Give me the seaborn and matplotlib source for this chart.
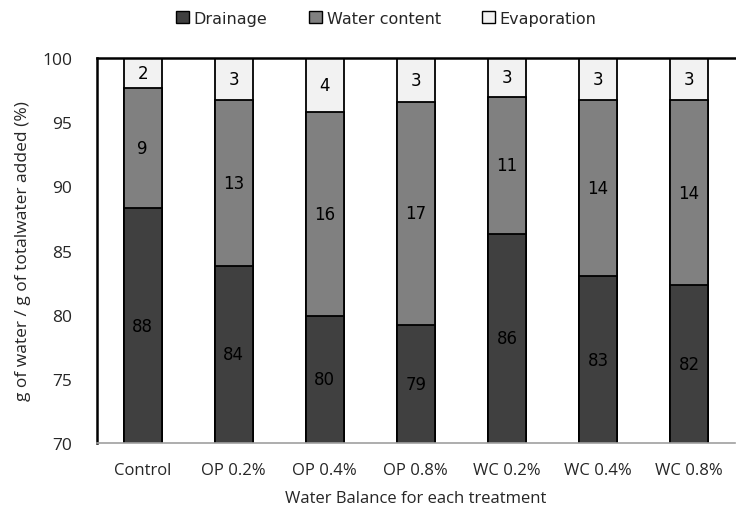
import numpy as np
import pandas as pd
import matplotlib
matplotlib.use("Agg")
import matplotlib.pyplot as plt
from matplotlib.patches import Patch
import seaborn as sns

# Water balance per treatment (% of total water added)
treatments = ["Control", "OP 0.2%", "OP 0.4%", "OP 0.8%", "WC 0.2%", "WC 0.4%", "WC 0.8%"]
drainage = [88.3, 83.8, 79.9, 79.2, 86.3, 83.0, 82.3]
water_content = [9.4, 12.9, 15.9, 17.4, 10.7, 13.7, 14.4]
evaporation = [2.3, 3.3, 4.2, 3.4, 3.0, 3.3, 3.3]
y_ticks = [70, 75, 80, 85, 90, 95, 100]

series_names = ["Drainage", "Water content", "Evaporation"]
series_colors = ["#404040", "#808080", "#f2f2f2"]

sns.set_theme(style="white")
plt.rcParams["font.family"] = ["DejaVu Sans"]

df = pd.DataFrame({
    "treatment": treatments,
    "Drainage": drainage,
    "Water content": water_content,
    "Evaporation": evaporation,
})
cum = df[series_names].cumsum(axis=1)
bottoms = cum.shift(1, axis=1).fillna(0)

fig = plt.figure(figsize=(7.36, 5.10), dpi=100)
ax = fig.add_axes([0.132, 0.1294, 0.866, 0.7549])

# stacked bars: draw cumulative totals from the top layer downwards
for name, color in reversed(list(zip(series_names, series_colors))):
    sns.barplot(x=df["treatment"], y=cum[name], color=color, saturation=1,
                edgecolor="black", linewidth=1.3, width=0.42, ax=ax, zorder=2)

ymin, ymax = 70, 100
ax.set_ylim(ymin, ymax)
ax.set_yticks(y_ticks)
ax.set_xlim(-0.5, len(treatments) - 0.5)

# segment value labels centred in the visible part of each segment
for name in series_names:
    for i in range(len(treatments)):
        lo = max(bottoms.loc[i, name], ymin)
        hi = cum.loc[i, name]
        ax.text(i, (lo + hi) / 2, f"{df.loc[i, name]:.0f}", ha="center", va="center",
                fontsize=12, color="black", zorder=3)

tick_font = "Open Sans"
for lab in ax.get_yticklabels():
    lab.set_fontfamily(tick_font)
    lab.set_fontsize(12.5)
for lab in ax.get_xticklabels():
    lab.set_fontfamily(tick_font)
    lab.set_fontsize(12)
ax.tick_params(axis="y", length=0, pad=18)
ax.tick_params(axis="x", length=0, pad=14)

ax.set_xlabel("Water Balance for each treatment", fontsize=12, family=tick_font, labelpad=8)
ax.set_ylabel("g of water / g of totalwater added (%)", fontsize=12.5, family=tick_font, labelpad=8)

for side in ["top", "left"]:
    ax.spines[side].set_color("black")
    ax.spines[side].set_linewidth(1.8)
ax.spines["bottom"].set_color("#a0a0a0")
ax.spines["bottom"].set_linewidth(1.2)
ax.spines["right"].set_visible(False)

handles = [Patch(facecolor=c, edgecolor="black", linewidth=1, label=n)
           for n, c in zip(series_names, series_colors)]
fig.legend(handles=handles, loc="upper center", bbox_to_anchor=(0.525, 1.005), ncol=3,
           frameon=False, fontsize=11.5, handlelength=0.8, handleheight=0.8,
           handletextpad=0.3, columnspacing=2.6)

fig.savefig("out.png", dpi=100)
